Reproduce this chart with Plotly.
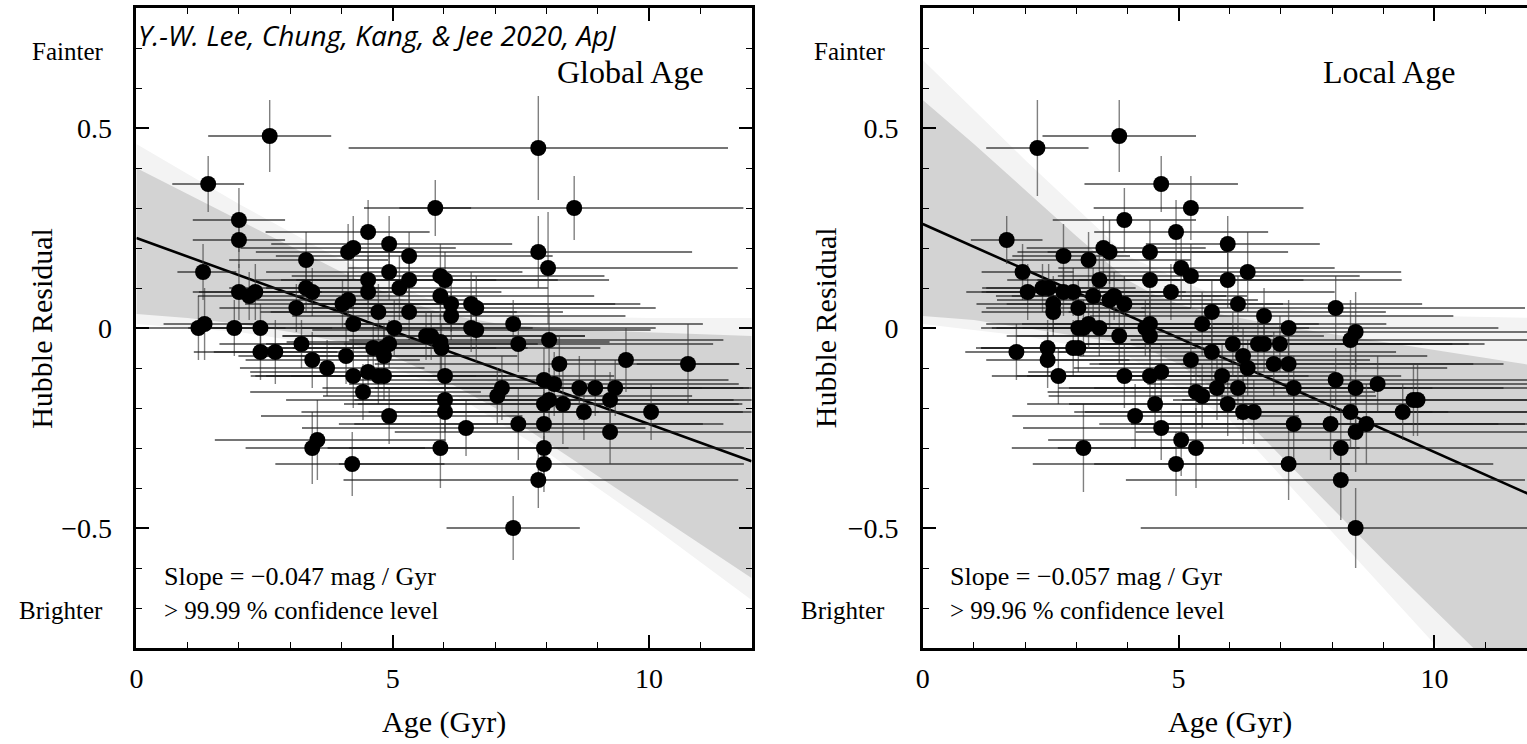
import plotly.graph_objects as go

# ---------------- Global Age panel (left) ----------------
g_age = [1.21, 1.33, 1.30, 1.40, 1.91, 2.00, 2.00, 2.00, 2.20, 2.32,
         2.42, 2.42, 2.60, 2.71, 3.12, 3.22, 3.31, 3.31, 3.43, 3.43,
         3.43, 3.53, 3.72, 4.02, 4.13, 4.13, 4.23, 4.23, 4.09, 4.23,
         4.21, 4.42, 4.52, 4.52, 4.52, 4.52, 4.62, 4.72, 4.72, 4.83,
         4.83, 4.83, 4.93, 4.93, 4.93, 4.93, 5.03, 5.13, 5.32, 5.32,
         5.32, 5.65, 5.75, 5.83, 5.93, 5.93, 5.93, 5.95, 5.93, 6.02,
         6.02, 6.02, 6.02, 6.14, 6.14, 6.43, 6.53, 6.63, 6.53, 6.63,
         7.04, 7.13, 7.35, 7.35, 7.45, 7.45, 7.84, 7.84, 7.84, 7.95,
         7.95, 7.95, 7.95, 7.95, 8.03, 8.05, 8.05, 8.15, 8.25, 8.32,
         8.54, 8.64, 8.73, 8.95, 9.24, 9.24, 9.34, 9.55, 10.04, 10.76]
g_res = [0.00, 0.01, 0.14, 0.36, 0.00, 0.27, 0.22, 0.09, 0.08, 0.09,
         0.00, -0.06, 0.48, -0.06, 0.05, -0.04, 0.17, 0.10, 0.09, -0.08,
         -0.30, -0.28, -0.10, 0.06, 0.07, 0.19, 0.20, 0.01, -0.07, -0.12,
         -0.34, -0.16, 0.24, 0.12, 0.09, -0.11, -0.05, 0.04, -0.12, -0.05,
         -0.07, -0.12, 0.21, 0.14, -0.04, -0.22, 0.00, 0.10, 0.18, 0.12,
         0.04, -0.02, -0.02, 0.30, 0.13, 0.08, -0.035, -0.05, -0.30, 0.12,
         -0.12, -0.18, -0.21, 0.06, 0.03, -0.25, 0.06, 0.05, 0.00, -0.005,
         -0.17, -0.15, 0.01, -0.50, -0.04, -0.24, 0.45, 0.19, -0.38, -0.13,
         -0.19, -0.24, -0.30, -0.34, 0.15, -0.03, -0.18, -0.14, -0.09, -0.19,
         0.30, -0.15, -0.21, -0.15, -0.18, -0.26, -0.15, -0.08, -0.21, -0.09]
g_xlo = [1.0, 0.8, 0.5, 0.7, 0.9, 0.9, 0.9, 0.9, 1.0, 1.1,
         1.0, 1.3, 1.2, 1.2, 1.5, 1.6, 1.5, 1.5, 1.6, 1.3,
         1.3, 2.0, 1.7, 1.9, 2.0, 1.8, 2.2, 2.3, 2.1, 2.0,
         1.5, 2.2, 2.0, 2.2, 2.4, 2.3, 2.2, 2.3, 2.4, 2.4,
         2.4, 2.3, 2.3, 2.4, 2.4, 2.5, 2.5, 2.6, 2.6, 2.5,
         2.7, 2.8, 2.9, 0.7, 2.9, 2.8, 3.0, 2.9, 2.2, 2.9,
         3.0, 3.1, 2.8, 3.0, 3.1, 3.2, 3.1, 3.2, 3.3, 3.2,
         3.4, 3.5, 3.3, 1.3, 3.4, 3.5, 3.7, 3.7, 3.8, 3.8,
         3.9, 3.7, 3.8, 4.0, 3.9, 3.9, 3.8, 4.0, 3.6, 4.0,
         4.1, 4.1, 4.2, 4.3, 4.3, 4.2, 4.5, 1.3, 4.5, 1.0]
g_xhi = [1.2, 1.0, 0.65, 0.7, 1.0, 0.9, 0.9, 1.1, 1.2, 1.3,
         1.4, 1.5, 1.2, 1.8, 1.6, 1.8, 1.6, 1.7, 1.8, 2.1,
         2.2, 2.5, 1.9, 2.1, 2.3, 1.2, 2.0, 2.4, 2.3, 2.4,
         1.8, 2.3, 1.2, 2.5, 2.6, 2.6, 2.4, 2.7, 2.5, 2.8,
         2.6, 2.8, 2.4, 2.6, 2.9, 2.6, 2.7, 2.9, 2.8, 2.9,
         3.0, 3.1, 3.0, 0.7, 3.2, 3.0, 3.3, 3.1, 2.5, 3.2,
         3.3, 3.4, 3.0, 3.2, 3.4, 3.5, 3.3, 3.5, 3.6, 3.4,
         3.8, 3.9, 3.7, 1.3, 3.8, 3.6, 3.7, 3.0, 3.9, 3.6,
         3.8, 3.5, 3.9, 3.9, 3.7, 3.4, 3.6, 3.6, 3.5, 3.5,
         3.3, 3.2, 3.1, 3.0, 2.8, 2.8, 2.7, 1.2, 2.0, 1.0]
g_yerr = [0.08, 0.09, 0.07, 0.07, 0.07, 0.08, 0.07, 0.07, 0.06, 0.07,
          0.06, 0.07, 0.09, 0.08, 0.06, 0.06, 0.07, 0.06, 0.06, 0.07,
          0.09, 0.10, 0.07, 0.06, 0.07, 0.07, 0.08, 0.06, 0.07, 0.08,
          0.08, 0.07, 0.08, 0.06, 0.07, 0.06, 0.06, 0.07, 0.07, 0.06,
          0.07, 0.06, 0.07, 0.07, 0.06, 0.07, 0.07, 0.08, 0.06, 0.06,
          0.07, 0.06, 0.06, 0.07, 0.08, 0.06, 0.07, 0.06, 0.10, 0.07,
          0.08, 0.08, 0.09, 0.07, 0.06, 0.07, 0.08, 0.08, 0.06, 0.08,
          0.07, 0.08, 0.06, 0.08, 0.07, 0.09, 0.13, 0.09, 0.07, 0.08,
          0.07, 0.08, 0.09, 0.07, 0.14, 0.08, 0.08, 0.08, 0.07, 0.10,
          0.08, 0.08, 0.07, 0.07, 0.07, 0.08, 0.07, 0.08, 0.07, 0.10]
g_fit = {"intercept": 0.225, "slope": -0.0465}
g_band_x = [0, 1, 2, 3, 4, 5, 6, 7, 8, 9, 10, 11, 12]
g_band_hi = [0.40, 0.335, 0.27, 0.205, 0.14, 0.08, 0.035, 0.012, 0.0, -0.006, -0.011, -0.016, -0.02]
g_band_lo = [0.035, 0.025, 0.01, -0.01, -0.035, -0.07, -0.13, -0.20, -0.285, -0.37, -0.455, -0.54, -0.625]
g_faint_x = [0, 2, 4, 6, 8, 10, 12]
g_faint_hi = [0.46, 0.31, 0.17, 0.055, 0.03, 0.025, 0.025]
g_faint_lo = [0.01, -0.01, -0.05, -0.15, -0.31, -0.49, -0.68]

# ---------------- Local Age panel (right) ----------------
l_age = [1.64, 1.83, 1.95, 2.05, 2.24, 2.34, 2.46, 2.44, 2.44, 2.55,
         2.55, 2.65, 2.75, 2.75, 2.94, 2.94, 3.04, 3.04, 3.04, 3.14,
         3.14, 3.24, 3.24, 3.33, 3.45, 3.45, 3.53, 3.65, 3.65, 3.74,
         3.84, 3.84, 3.94, 3.94, 3.94, 4.15, 4.35, 4.44, 4.44, 4.44,
         4.44, 4.44, 4.54, 4.66, 4.66, 4.66, 4.85, 4.95, 4.95, 5.05,
         5.05, 5.24, 5.24, 5.24, 5.34, 5.34, 5.46, 5.46, 5.65, 5.65,
         5.75, 5.85, 5.96, 5.96, 5.96, 6.06, 6.16, 6.16, 6.26, 6.26,
         6.35, 6.35, 6.47, 6.55, 6.67, 6.67, 6.86, 6.98, 7.15, 7.15,
         7.15, 7.25, 7.25, 7.97, 8.07, 8.07, 8.17, 8.17, 8.36, 8.36,
         8.46, 8.46, 8.46, 8.46, 8.67, 8.89, 9.38, 9.59, 9.67]
l_res = [0.22, -0.06, 0.14, 0.09, 0.45, 0.10, 0.10, -0.05, -0.08, 0.06,
         0.04, -0.12, 0.18, 0.09, 0.09, -0.05, 0.05, 0.00, -0.05, 0.00,
         -0.30, 0.17, 0.01, 0.08, 0.12, 0.00, 0.20, 0.19, 0.07, 0.08,
         0.48, -0.02, 0.27, 0.06, -0.12, -0.22, 0.00, 0.19, 0.12, 0.01,
         -0.02, -0.12, -0.19, 0.36, -0.11, -0.25, 0.09, 0.24, -0.34, 0.15,
         -0.28, 0.30, 0.13, -0.08, -0.16, -0.30, 0.01, -0.17, 0.04, -0.06,
         -0.15, -0.12, 0.21, 0.12, -0.19, -0.04, 0.06, -0.15, -0.07, -0.21,
         0.14, -0.10, -0.21, -0.04, 0.03, -0.04, -0.09, -0.04, 0.00, -0.09,
         -0.34, -0.15, -0.24, -0.24, 0.05, -0.13, -0.30, -0.38, -0.03, -0.21,
         -0.01, -0.15, -0.26, -0.50, -0.24, -0.14, -0.21, -0.18, -0.18]
l_xlo = [0.7, 1.0, 0.8, 1.2, 1.0, 1.1, 1.3, 1.3, 1.2, 1.5,
         1.4, 1.3, 1.0, 1.6, 1.7, 1.8, 1.8, 1.9, 2.0, 1.7,
         1.4, 1.6, 2.0, 1.9, 1.8, 2.1, 1.5, 1.8, 2.2, 2.0,
         1.5, 2.2, 1.4, 2.3, 2.1, 2.4, 2.4, 2.0, 2.2, 2.5,
         2.6, 2.4, 2.5, 1.5, 2.6, 2.7, 2.5, 1.6, 2.8, 2.4,
         2.6, 1.9, 2.6, 2.8, 2.9, 2.7, 2.9, 3.0, 2.8, 3.0,
         3.1, 3.0, 1.6, 2.9, 3.1, 3.2, 3.1, 3.3, 3.2, 3.3,
         2.9, 3.4, 3.3, 3.5, 3.4, 3.5, 3.6, 3.5, 3.6, 3.7,
         3.8, 3.9, 3.8, 3.9, 3.8, 4.0, 4.1, 4.2, 4.3, 4.2,
         4.2, 4.4, 4.3, 4.2, 4.4, 4.5, 4.6, 4.7, 4.6]
l_xhi = [0.7, 1.3, 1.0, 1.5, 1.0, 1.4, 1.7, 1.9, 1.6, 1.9,
         1.8, 2.0, 1.3, 2.0, 2.2, 2.4, 2.2, 2.6, 2.5, 2.3,
         1.8, 2.0, 2.8, 2.6, 2.4, 2.7, 2.0, 2.3, 2.9, 2.6,
         1.5, 3.0, 1.4, 3.1, 2.9, 3.2, 3.2, 2.7, 3.0, 3.3,
         3.4, 3.1, 3.2, 1.5, 3.4, 3.3, 3.2, 1.8, 3.4, 3.0,
         3.3, 2.2, 3.3, 3.5, 3.5, 3.2, 3.6, 3.4, 3.4, 3.6,
         3.7, 3.5, 1.8, 3.4, 3.6, 3.7, 3.6, 3.8, 3.6, 3.7,
         3.0, 3.9, 3.8, 3.8, 3.7, 4.0, 3.9, 4.0, 4.1, 4.2,
         4.0, 4.1, 4.0, 3.8, 3.7, 3.8, 3.7, 3.6, 3.6, 3.5,
         3.5, 3.4, 3.4, 3.4, 3.2, 3.1, 2.8, 2.6, 2.5]
l_yerr = [0.06, 0.07, 0.07, 0.07, 0.12, 0.06, 0.06, 0.07, 0.07, 0.07,
          0.06, 0.07, 0.08, 0.06, 0.06, 0.07, 0.07, 0.06, 0.06, 0.07,
          0.11, 0.07, 0.06, 0.07, 0.08, 0.07, 0.08, 0.08, 0.07, 0.06,
          0.09, 0.07, 0.08, 0.07, 0.08, 0.08, 0.07, 0.08, 0.07, 0.07,
          0.06, 0.08, 0.07, 0.07, 0.07, 0.08, 0.07, 0.08, 0.08, 0.08,
          0.09, 0.08, 0.08, 0.07, 0.08, 0.10, 0.08, 0.08, 0.08, 0.07,
          0.08, 0.08, 0.07, 0.07, 0.08, 0.08, 0.07, 0.08, 0.07, 0.08,
          0.10, 0.07, 0.08, 0.08, 0.07, 0.07, 0.08, 0.07, 0.07, 0.08,
          0.09, 0.08, 0.09, 0.09, 0.08, 0.08, 0.10, 0.10, 0.10, 0.09,
          0.10, 0.09, 0.10, 0.10, 0.10, 0.07, 0.07, 0.09, 0.09]
l_fit = {"intercept": 0.26, "slope": -0.057}
l_band_x = [0, 1, 2, 3, 4, 4.5, 5, 5.5, 6, 7, 8, 9, 10, 11, 12]
l_band_hi = [0.57, 0.46, 0.345, 0.23, 0.12, 0.085, 0.06, 0.042, 0.03, 0.005, -0.015, -0.035, -0.055, -0.075, -0.095]
l_band_lo = [0.03, 0.02, 0.0, -0.02, -0.04, -0.06, -0.09, -0.135, -0.19, -0.32, -0.45, -0.58, -0.705, -0.83, -0.955]
l_faint_x = [0, 2, 4, 6, 8, 10, 12]
l_faint_hi = [0.67, 0.42, 0.18, 0.065, 0.035, 0.03, 0.025]
l_faint_lo = [0.01, -0.02, -0.07, -0.23, -0.51, -0.79, -1.07]

W, H = 1527, 744
ML, MT, MB = 0, 8, 96
SERIF = "Liberation Serif"

fig = go.Figure()


def add_panel(xa, ya, age, res, xlo, xhi, yerr, fit, bx, bhi, blo, fx, fhi, flo):
    fig.add_trace(go.Scatter(x=fx + fx[::-1], y=fhi + flo[::-1], fill="toself",
                             fillcolor="#f3f3f3", line=dict(width=0), mode="lines",
                             hoverinfo="skip", showlegend=False, xaxis=xa, yaxis=ya))
    fig.add_trace(go.Scatter(x=bx + bx[::-1], y=bhi + blo[::-1], fill="toself",
                             fillcolor="#d3d3d3", line=dict(width=0), mode="lines",
                             hoverinfo="skip", showlegend=False, xaxis=xa, yaxis=ya))
    fx2 = [0, 12]
    fy2 = [fit["intercept"] + fit["slope"] * v for v in fx2]
    fig.add_trace(go.Scatter(x=fx2, y=fy2, mode="lines", line=dict(color="black", width=2.6),
                             showlegend=False, xaxis=xa, yaxis=ya))
    fig.add_trace(go.Scatter(
        x=age, y=res, mode="markers",
        marker=dict(size=16, color="black"),
        error_x=dict(type="data", symmetric=False, array=xhi, arrayminus=xlo,
                     color="rgba(25,25,25,0.8)", thickness=1.3, width=0),
        error_y=dict(type="data", array=yerr, color="rgba(60,60,60,0.65)",
                     thickness=1.4, width=0),
        showlegend=False, xaxis=xa, yaxis=ya))


add_panel("x", "y", g_age, g_res, g_xlo, g_xhi, g_yerr, g_fit,
          g_band_x, g_band_hi, g_band_lo, g_faint_x, g_faint_hi, g_faint_lo)
add_panel("x2", "y2", l_age, l_res, l_xlo, l_xhi, l_yerr, l_fit,
          l_band_x, l_band_hi, l_band_lo, l_faint_x, l_faint_hi, l_faint_lo)

tickfont = dict(family=SERIF, size=28, color="black")
common_x = dict(tickmode="linear", tick0=0, dtick=5, ticks="inside", ticklen=13,
                tickwidth=1.6, tickcolor="black",
                minor=dict(ticks="inside", dtick=1, ticklen=6, tickwidth=1.3, tickcolor="black"),
                showline=True, linewidth=2.5, linecolor="black", showgrid=False,
                zeroline=False, tickfont=tickfont, ticklabelstandoff=4)
common_y = dict(range=[-0.8, 0.8], tickmode="linear", tick0=0, dtick=0.5, ticks="inside",
                ticklen=13, tickwidth=1.6, tickcolor="black",
                minor=dict(ticks="inside", dtick=0.1, ticklen=6, tickwidth=1.3, tickcolor="black"),
                showline=True, linewidth=2.5, linecolor="black", showgrid=False,
                zeroline=False, tickfont=tickfont, ticklabelstandoff=16)

fig.update_layout(
    width=W, height=H, autosize=False,
    margin=dict(l=ML, r=0, t=MT, b=MB),
    paper_bgcolor="white", plot_bgcolor="white",
    xaxis=dict(domain=[130 / W, 748 / W], range=[0, 12], anchor="y", mirror="ticks", **common_x),
    yaxis=dict(domain=[0, 1], anchor="x", mirror="ticks", **common_y),
    xaxis2=dict(domain=[920 / W, 1.0], range=[0, (W - 920) / 51.4], anchor="y2", mirror="ticks", **common_x),
    yaxis2=dict(domain=[0, 1], anchor="x2", mirror=False, **common_y),
)

PH = H - MT - MB


def py(p):
    return (H - MB - p) / PH


ann = []
txt = dict(family=SERIF, color="black")
for right_edge, rot_x in [(98, 34), (884, 822)]:
    ann.append(dict(text="Fainter", x=right_edge / W, y=py(52), xref="paper", yref="paper",
                    xanchor="right", yanchor="middle",
                    showarrow=False, font=dict(size=25, **txt)))
    ann.append(dict(text="Brighter", x=right_edge / W, y=py(610), xref="paper", yref="paper",
                    xanchor="right", yanchor="middle",
                    showarrow=False, font=dict(size=25, **txt)))
    ann.append(dict(text="Hubble Residual", x=rot_x / W, y=py(328), xref="paper", yref="paper",
                    xanchor="center", yanchor="middle",
                    showarrow=False, textangle=-90, font=dict(size=30, **txt)))
ann.append(dict(text="Age (Gyr)", x=439 / W, y=py(722), xref="paper", yref="paper",
                xanchor="center", yanchor="middle",
                showarrow=False, font=dict(size=30, **txt)))
ann.append(dict(text="Age (Gyr)", x=1229 / W, y=py(722), xref="paper", yref="paper",
                xanchor="center", yanchor="middle",
                showarrow=False, font=dict(size=30, **txt)))

ann.append(dict(text="Global Age", x=11.12, y=0.64, xref="x", yref="y", xanchor="right",
                yanchor="middle", showarrow=False, font=dict(size=32, **txt)))
ann.append(dict(text="Local Age", x=10.45, y=0.64, xref="x2", yref="y2", xanchor="right",
                yanchor="middle", showarrow=False, font=dict(size=32, **txt)))
ann.append(dict(text="<i>Y.-W. Lee, Chung, Kang, &amp; Jee 2020, ApJ</i>", x=0.0, y=0.7325,
                xref="x", yref="y", xanchor="left", yanchor="middle", showarrow=False,
                font=dict(family="Open Sans", size=28, color="black")))
ann.append(dict(text="Slope = \u22120.047 mag / Gyr", x=0.5, y=-0.62, xref="x", yref="y",
                xanchor="left", yanchor="middle", showarrow=False, font=dict(size=26, **txt)))
ann.append(dict(text="&gt; 99.99 % confidence level", x=0.5, y=-0.705, xref="x", yref="y",
                xanchor="left", yanchor="middle", showarrow=False, font=dict(size=25, **txt)))
ann.append(dict(text="Slope = \u22120.057 mag / Gyr", x=0.5, y=-0.62, xref="x2", yref="y2",
                xanchor="left", yanchor="middle", showarrow=False, font=dict(size=26, **txt)))
ann.append(dict(text="&gt; 99.96 % confidence level", x=0.5, y=-0.705, xref="x2", yref="y2",
                xanchor="left", yanchor="middle", showarrow=False, font=dict(size=25, **txt)))
fig.update_layout(annotations=ann)

fig.write_html("out.html")
